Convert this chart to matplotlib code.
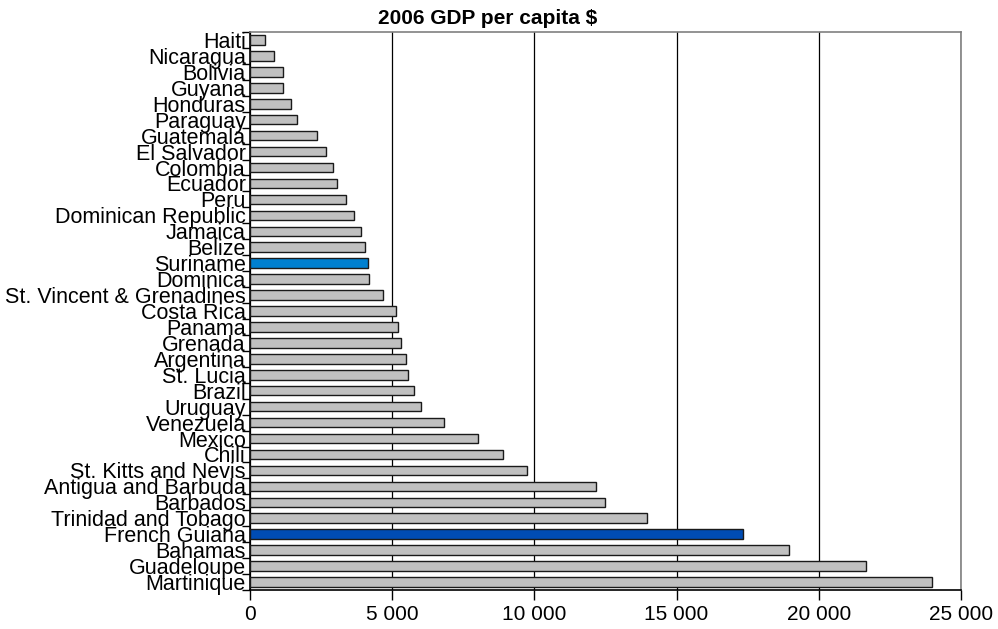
import matplotlib
matplotlib.use("Agg")
import matplotlib.pyplot as plt
from matplotlib.ticker import FixedLocator, FuncFormatter
import numpy as np

plt.rcParams['font.family'] = ['Liberation Sans', 'DejaVu Sans']

countries = [
    "Haiti", "Nicaragua", "Bolivia", "Guyana", "Honduras", "Paraguay",
    "Guatemala", "El Salvador", "Colombia", "Ecuador", "Peru",
    "Dominican Republic", "Jamaica", "Belize", "Suriname", "Dominica",
    "St. Vincent & Grenadines", "Costa Rica", "Panama", "Grenada",
    "Argentina", "St. Lucia", "Brazil", "Uruguay", "Venezuela", "Mexico",
    "Chili", "St. Kitts and Nevis", "Antigua and Barbuda", "Barbados",
    "Trinidad and Tobago", "French Guiana", "Bahamas", "Guadeloupe",
    "Martinique",
]
gdp = [
    530, 860, 1150, 1150, 1430, 1650,
    2340, 2670, 2920, 3050, 3370,
    3670, 3890, 4030, 4140, 4180,
    4680, 5130, 5210, 5310,
    5470, 5560, 5750, 6030, 6820, 8010,
    8910, 9730, 12170, 12500,
    13970, 17350, 18950, 21670,
    23970,
]
highlight = {"Suriname": "#0080d0", "French Guiana": "#004cb4"}
x_ticks = [0, 5000, 10000, 15000, 20000, 25000]

fig = plt.figure(figsize=(9.98, 6.29), dpi=100)
ax = fig.add_axes([250 / 998, 1 - 590 / 629, (961 - 250) / 998, (590 - 32) / 629])

y = np.arange(len(countries))
colors = [highlight.get(c, "#c0c0c0") for c in countries]
ax.barh(y, gdp, height=0.6, color=colors, edgecolor="#1a1a1a", linewidth=1.0, zorder=3)

ax.set_xlim(0, 25000)
ax.set_ylim(len(countries) - 0.5, -0.5)

# category labels centred on bars, tick marks between categories
ax.set_yticks(y)
ax.set_yticklabels(countries, fontsize=15.5)
ax.tick_params(axis="y", which="major", length=0, pad=3)
ax.yaxis.set_minor_locator(FixedLocator(np.arange(len(countries) + 1) - 0.5))
ax.tick_params(axis="y", which="minor", length=6, width=1, color="black", direction="out")

ax.set_xticks(x_ticks)
ax.xaxis.set_major_formatter(FuncFormatter(lambda v, p: f"{int(v):,}".replace(",", " ")))
ax.tick_params(axis="x", which="major", length=7, width=1, direction="out", labelsize=15, pad=4)

ax.grid(axis="x", color="black", linewidth=0.9, zorder=1)
ax.set_axisbelow(True)

for side in ("top", "right"):
    ax.spines[side].set_color("#808080")
    ax.spines[side].set_linewidth(1.2)
for side in ("left", "bottom"):
    ax.spines[side].set_color("black")
    ax.spines[side].set_linewidth(1.2)

fig.text(488 / 998, 1 - 19 / 629, "2006 GDP per capita $", ha="center", va="center",
         fontsize=15, fontweight="bold")

fig.savefig("out.png", dpi=100)
